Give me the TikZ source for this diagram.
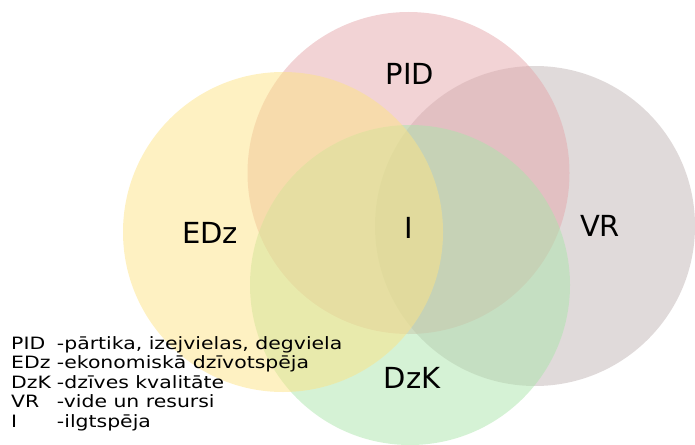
\documentclass[tikz,border=0pt]{standalone}
\usepackage{fontspec}
\setmainfont{DejaVu Sans}
\newfontfamily\legendfont[FakeStretch=1.2]{DejaVu Sans}
\usepackage{tikz}

\definecolor{pidcol}{RGB}{229,167,171}
\definecolor{edzcol}{RGB}{253,227,133}
\definecolor{dzkcol}{RGB}{171,229,171}
\definecolor{vrcol}{RGB}{193,181,181}

\begin{document}
\begin{tikzpicture}[x=1pt, y=-1pt,
		sphere/.style={fill opacity=0.5, draw=none},
		tag/.style={font=\fontsize{29}{29}\selectfont, inner sep=0pt}]
				\useasboundingbox (0,0) rectangle (695,444);
				
				% the four circles, back to front
				\fill[sphere, vrcol]  (535,226) circle [radius=160pt];
				\fill[sphere, pidcol] (408.5,173) circle [radius=161pt];
				\fill[sphere, dzkcol] (410,285) circle [radius=160pt];
				\fill[sphere, edzcol] (283,232) circle [radius=160pt];
				
				% labels
				\node[tag] (pid) at (410,74) {PID};
				\node[tag] (edz) at (210,232.5) {EDz};
				\node[tag] (ilg) at (408.5,227.5) {I};
				\node[tag] (vr)  at (600,226) {VR};
				\node[tag] (dzk) at (412,378) {DzK};
				
				% legend
				\node[anchor=north west, inner sep=0pt] (legend) at (11,335.35) {%
					\legendfont\fontsize{17}{19.5}\selectfont
					\begin{tabular}{@{}l@{\hspace{6pt}}l@{}}
						PID & -pārtika, izejvielas, degviela\\
						EDz & -ekonomiskā dzīvotspēja\\
						DzK & -dzīves kvalitāte\\
						VR  & -vide un resursi\\
						I   & -ilgtspēja
					\end{tabular}};
			\end{tikzpicture}
\end{document}
